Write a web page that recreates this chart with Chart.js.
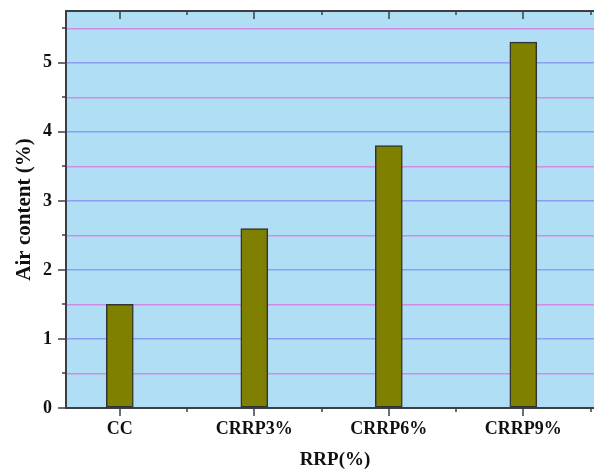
<!DOCTYPE html>
<html>
<head>
<meta charset="utf-8">
<script src="https://cdn.jsdelivr.net/npm/chart.js@4/dist/chart.umd.min.js"></script>
<style>
  html, body { margin: 0; padding: 0; background: #fff; overflow: hidden; }
  #wrap { position: absolute; left: 0; top: 0; width: 610px; height: 471px; }
</style>
</head>
<body>
<div id="wrap"><canvas id="airChart" width="610" height="471"></canvas></div>
<script>
// donnees
const categories = ['CC', 'CRRP3%', 'CRRP6%', 'CRRP9%'];
const positions = [1, 2, 3, 4];
const airContent = [1.5, 2.6, 3.8, 5.3];
const xMinorTicks = [1.5, 2.5, 3.5, 4.5];
const yMajorTicks = [0, 1, 2, 3, 4, 5];
const yMinorTicks = [0.5, 1.5, 2.5, 3.5, 4.5, 5.5];

const AXIS_COLOR = '#3a3f44';
const FONT = '"Liberation Serif", "Times New Roman", serif';

// fond bleu + bordure du haut + petits traits des axes
const frame = {
  id: 'frame',
  beforeDraw(chart) {
    const { ctx, chartArea: a } = chart;
    ctx.save();
    ctx.fillStyle = '#b0def5';
    ctx.fillRect(a.left, a.top, a.right - a.left, a.bottom - a.top);
    ctx.restore();
  },
  afterDraw(chart) {
    const { ctx, chartArea: a, scales } = chart;
    const x = scales.x, y = scales.y;
    ctx.save();
    ctx.strokeStyle = AXIS_COLOR;
    ctx.lineWidth = 2;
    ctx.beginPath();
    ctx.moveTo(a.left - 1, a.top);
    ctx.lineTo(a.right, a.top);
    ctx.stroke();

    ctx.lineWidth = 1.5;
    const tick = (x1, y1, x2, y2) => {
      ctx.beginPath();
      ctx.moveTo(x1, y1);
      ctx.lineTo(x2, y2);
      ctx.stroke();
    };
    positions.forEach(v => {
      const px = Math.round(x.getPixelForValue(v));
      tick(px, a.bottom, px, a.bottom + 8);
      tick(px, a.top, px, a.top + 8);
    });
    xMinorTicks.forEach(v => {
      const px = Math.round(x.getPixelForValue(v));
      tick(px, a.bottom, px, a.bottom + 4);
      tick(px, a.top, px, a.top + 4);
    });
    yMajorTicks.forEach(v => {
      const py = Math.round(y.getPixelForValue(v));
      tick(a.left - 8, py, a.left, py);
    });
    yMinorTicks.forEach(v => {
      const py = Math.round(y.getPixelForValue(v));
      tick(a.left - 4, py, a.left, py);
    });
    ctx.restore();
  }
};

new Chart(document.getElementById('airChart'), {
  type: 'bar',
  data: {
    datasets: [{
      data: positions.map((p, i) => ({ x: p, y: airContent[i] })),
      backgroundColor: '#808000',
      borderColor: '#333333',
      borderWidth: 1.5,
      borderSkipped: false,
      barThickness: 27
    }]
  },
  options: {
    responsive: false,
    animation: false,
    layout: { padding: { top: 11, right: 6, left: 0, bottom: 0 } },
    plugins: { legend: { display: false }, tooltip: { enabled: false } },
    scales: {
      x: {
        type: 'linear',
        offset: false,
        min: 0.6,
        max: 4.6,
        afterBuildTicks(scale) {
          scale.ticks = positions.map(v => ({ value: v }));
        },
        afterFit(scale) {
          scale.height = 63;
          scale.paddingLeft = 0;
          scale.paddingRight = 0;
        },
        grid: { drawOnChartArea: false, drawTicks: false },
        border: { color: AXIS_COLOR, width: 2 },
        ticks: {
          padding: 11,
          color: '#111',
          font: { family: FONT, size: 18, weight: 'bold' },
          callback: v => categories[positions.indexOf(v)] ?? ''
        },
        title: {
          display: true,
          text: 'RRP(%)',
          color: '#111',
          font: { family: FONT, size: 19, weight: 'bold' },
          padding: { top: 17, bottom: 0 }
        }
      },
      y: {
        min: 0,
        max: 5.75,
        afterBuildTicks(scale) {
          scale.ticks = yMajorTicks.concat(yMinorTicks).sort((a, b) => a - b).map(v => ({ value: v }));
        },
        afterFit(scale) {
          scale.width = 66;
          scale.paddingTop = 0;
          scale.paddingBottom = 0;
        },
        grid: {
          drawTicks: false,
          lineWidth: 1.5,
          color: c => {
            const v = c.tick ? c.tick.value : 0;
            if (v === 0) return 'rgba(0,0,0,0)';
            return Number.isInteger(v) ? '#8a9ef5' : '#d08ce6';
          }
        },
        border: { color: AXIS_COLOR, width: 2 },
        ticks: {
          padding: 14,
          color: '#111',
          font: { family: FONT, size: 18, weight: 'bold' },
          callback: v => Number.isInteger(v) ? String(v) : ''
        },
        title: {
          display: true,
          text: 'Air content (%)',
          color: '#111',
          font: { family: FONT, size: 21, weight: 'bold' },
          padding: { top: 12, bottom: 0 }
        }
      }
    }
  },
  plugins: [frame]
});
</script>
</body>
</html>
